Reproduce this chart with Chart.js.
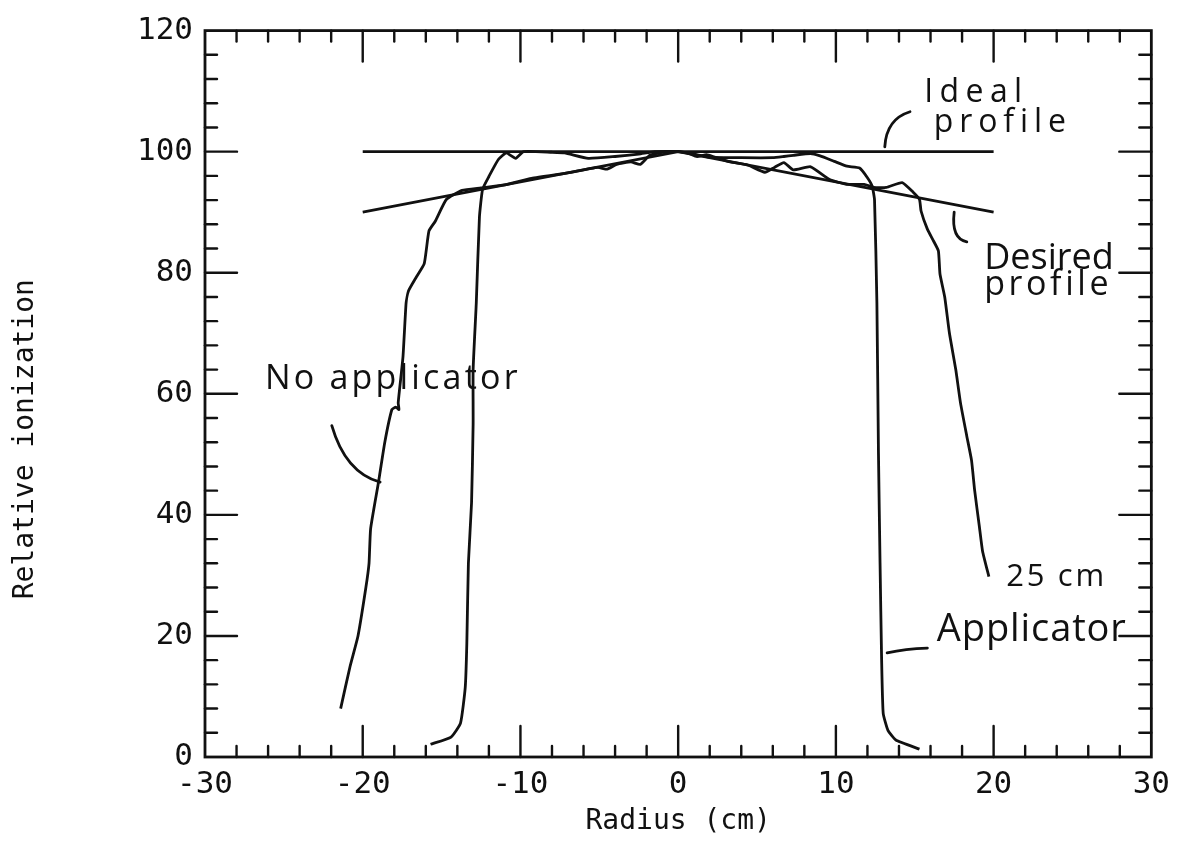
<!DOCTYPE html>
<html>
<head>
<meta charset="utf-8">
<script src="https://cdn.jsdelivr.net/npm/chart.js@4.4.1/dist/chart.umd.min.js"></script>
<style>
  html,body{margin:0;padding:0;background:#fff;}
  canvas{display:block;}
</style>
</head>
<body>
<canvas id="c" width="1179" height="841"></canvas>
<script>
// ---- data ----
const xTickLabels = [-30, -20, -10, 0, 10, 20, 30];
const yTickLabels = [0, 20, 40, 60, 80, 100, 120];
const xTitle = 'Radius (cm)';
const yTitle = 'Relative ionization';

const idealX = [-20, 20];
const idealY = [100, 100];

const desiredX = [-20, 0, 20];
const desiredY = [90, 100, 90];

const noAppX = [-21.4, -20.8, -20.3, -19.8, -19.6, -19.5, -19.0, -18.6, -18.15, -17.9, -17.7, -17.75, -17.45, -17.25, -17.1, -16.6, -16.1, -15.8, -15.4, -14.7, -13.7, -12.5, -11.0, -9.3, -7.0, -5.1, -4.5, -3.9, -3.0, -2.4, -1.8, -1.0, 0.0,
  0.6, 1.2, 1.8, 2.3, 3.3, 4.4, 5.5, 6.1, 6.7, 7.3, 8.4, 9.6, 10.7, 11.8, 12.4, 13.2, 14.2, 14.9, 15.3, 15.4, 15.8, 16.2, 16.5, 16.6, 16.9, 17.2, 17.6, 17.9, 18.3, 18.6, 18.8, 19.1, 19.3, 19.7];
const noAppY = [8, 15, 20, 28, 32, 37.7, 45.4, 52, 57.4, 57.8, 57.4, 58.5, 66, 75, 77, 79.3, 81.5, 86.9, 88.5, 92.1, 93.6, 94.0, 94.5, 95.6, 96.5, 97.4, 97.1, 97.9, 98.3, 97.9, 99.4, 99.9, 100,
  99.8, 99.2, 99.5, 99.1, 98.3, 97.8, 96.6, 97.4, 98.2, 97.0, 97.5, 95.4, 94.6, 94.6, 94.1, 94.1, 94.9, 93.3, 92.1, 90.2, 87.2, 85.2, 83.6, 79.8, 76, 70, 64, 58.5, 53, 49, 44, 38, 34, 29.8];

const appX = [-15.7, -14.4, -13.8, -13.5, -13.4, -13.3, -13.1, -13.0, -13.0, -12.8, -12.6, -12.4, -12.0, -11.4, -10.9, -10.3, -9.8, -8.0, -7.2, -5.7, -4.0, -2.5, -1.5, 0.0,
  1.0, 2.0, 4.0, 6.0, 6.7, 7.3, 8.4, 9.0, 9.9, 10.7, 11.5, 12.0, 12.3, 12.45, 12.6, 12.7, 12.8, 12.9, 13.0, 13.3, 13.8, 15.3];
const appY = [2.1, 3.3, 5.6, 11.5, 18.7, 32, 42, 55, 64, 75, 89.2, 93.8, 95.9, 98.7, 99.8, 98.9, 100, 99.9, 99.8, 98.9, 99.2, 99.6, 100, 100,
  99.6, 99.1, 99.0, 99.0, 99.2, 99.4, 99.7, 99.3, 98.4, 97.6, 97.3, 95.7, 94.3, 92, 75, 50, 32, 16, 7.2, 4.4, 2.8, 1.3];

// handwritten notes (data units: left x, baseline y, width in x units)
const noteTexts = ["Ideal", "profile", "Desired", "profile", "No applicator", "25 cm", "Applicator"];
const noteX     = [15.6, 16.2, 19.4, 19.4, -26.2, 20.8, 16.4];
const noteY     = [108.2, 103.3, 80.6, 76.3, 60.8, 28.3, 19.2];
const noteW     = [6.2, 8.4, 8.2, 7.9, 16.0, 6.2, 12.0];
const noteSize  = [32, 32, 36, 34, 34, 31, 38];

// leader strokes (data units): start, control, end
const leaders = [
  [[13.1, 100.8], [13.2, 105.4], [14.7, 106.6]],
  [[17.5, 90.0], [17.3, 85.6], [18.3, 85.1]],
  [[-21.96, 54.75], [-21.1, 47.0], [-18.9, 45.4]],
  [[13.25, 17.2], [14.4, 17.9], [15.8, 18.0]]
];

const toPts = (xs, ys) => xs.map((v, i) => ({x: v, y: ys[i]}));
const INK = '#111';
const MONO = "'DejaVu Sans Mono'";

const decor = {
  id: 'decor',
  afterDatasetsDraw(chart) {
    const {ctx, chartArea: a, scales: {x, y}} = chart;
    ctx.save();
    ctx.strokeStyle = INK;
    ctx.fillStyle = INK;
    ctx.lineCap = 'round';
    // frame
    ctx.lineWidth = 2.8;
    ctx.strokeRect(a.left, a.top, a.right - a.left, a.bottom - a.top);
    // inward ticks
    ctx.lineWidth = 2.4;
    const seg = (x1, y1, x2, y2) => { ctx.beginPath(); ctx.moveTo(x1, y1); ctx.lineTo(x2, y2); ctx.stroke(); };
    x.ticks.forEach(t => {
      const px = x.getPixelForValue(t.value);
      if (px <= a.left + 1 || px >= a.right - 1) return;
      const len = (Math.abs(t.value) % 10 === 0) ? 31 : 11;
      seg(px, a.bottom, px, a.bottom - len);
      seg(px, a.top, px, a.top + len);
    });
    y.ticks.forEach(t => {
      const py = y.getPixelForValue(t.value);
      if (py <= a.top + 1 || py >= a.bottom - 1) return;
      const len = (t.value % 20 === 0) ? 32 : 12;
      seg(a.left, py, a.left + len, py);
      seg(a.right, py, a.right - len, py);
    });
    // leader strokes
    ctx.lineWidth = 2.8;
    leaders.forEach(l => {
      ctx.beginPath();
      ctx.moveTo(x.getPixelForValue(l[0][0]), y.getPixelForValue(l[0][1]));
      ctx.quadraticCurveTo(x.getPixelForValue(l[1][0]), y.getPixelForValue(l[1][1]),
                           x.getPixelForValue(l[2][0]), y.getPixelForValue(l[2][1]));
      ctx.stroke();
    });
    // notes
    ctx.textBaseline = 'alphabetic';
    ctx.textAlign = 'left';
    noteTexts.forEach((s, i) => {
      ctx.font = noteSize[i] + "px 'Open Sans'";
      ctx.letterSpacing = '0px';
      const target = x.getPixelForValue(noteX[i] + noteW[i]) - x.getPixelForValue(noteX[i]);
      const w = ctx.measureText(s).width;
      const sp = Math.max(0, (target - w) / Math.max(1, s.length - 1));
      ctx.letterSpacing = sp.toFixed(1) + 'px';
      ctx.fillText(s, x.getPixelForValue(noteX[i]), y.getPixelForValue(noteY[i]));
    });
    ctx.letterSpacing = '0px';
    // y axis title (rotated), placed as in the original
    ctx.font = "28px " + MONO;
    ctx.textAlign = 'center';
    ctx.textBaseline = 'middle';
    ctx.translate(26, y.getPixelForValue(52.5));
    ctx.rotate(-Math.PI / 2);
    ctx.fillText(yTitle, 0, 0);
    ctx.restore();
  }
};

const lineDs = (label, xs, ys, tension) => ({
  label, data: toPts(xs, ys), showLine: true, pointRadius: 0,
  borderColor: INK, borderWidth: 2.8, tension: tension, fill: false
});

new Chart(document.getElementById('c'), {
  type: 'scatter',
  data: {
    datasets: [
      lineDs('Ideal profile', idealX, idealY, 0),
      lineDs('Desired profile', desiredX, desiredY, 0),
      lineDs('No applicator', noAppX, noAppY, 0.15),
      lineDs('25 cm Applicator', appX, appY, 0.15)
    ]
  },
  options: {
    responsive: false,
    animation: false,
    devicePixelRatio: 1,
    layout: { padding: { top: 25, right: 23, left: 0, bottom: 0 } },
    plugins: { legend: { display: false }, tooltip: { enabled: false } },
    scales: {
      x: {
        type: 'linear', min: -30, max: 30,
        afterFit(s) { s.height = 84; },
        grid: { display: false, drawTicks: false },
        border: { display: false },
        ticks: {
          stepSize: 2, autoSkip: false, maxRotation: 0, padding: 9,
          color: INK, font: { family: MONO, size: 31 },
          callback: v => xTickLabels.includes(v) ? String(v) : ''
        },
        title: {
          display: true, text: xTitle, color: INK,
          font: { family: MONO, size: 28 },
          padding: { top: 0, bottom: 2 }
        }
      },
      y: {
        type: 'linear', min: 0, max: 120,
        afterFit(s) { s.width = 205; },
        grid: { display: false, drawTicks: false },
        border: { display: false },
        ticks: {
          stepSize: 4, autoSkip: false, padding: 12,
          color: INK, font: { family: MONO, size: 31 },
          callback: v => yTickLabels.includes(v) ? String(v) : ''
        }
      }
    }
  },
  plugins: [decor]
});
</script>
</body>
</html>
